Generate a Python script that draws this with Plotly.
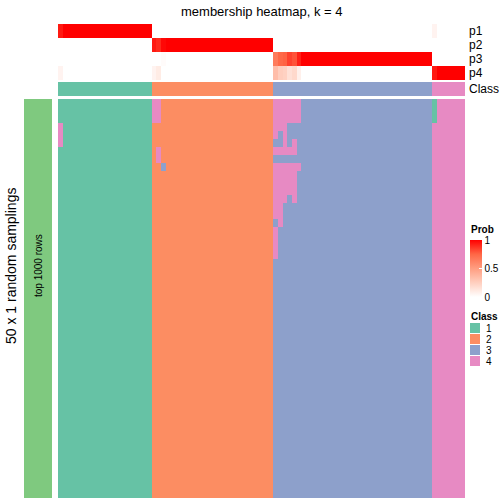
import plotly.graph_objects as go

W, H = 504, 504

# ---------------- data ----------------
class_labels = ["1", "2", "3", "4"]
class_colors = ["#66C2A5", "#FC8D62", "#8DA0CB", "#E78AC3"]
class_sizes = [20, 26, 34, 7]          # number of samples in each consensus class
n_samplings = 50
prob_names = ["p1", "p2", "p3", "p4"]

# membership probabilities that deviate from pure membership: column -> (p1, p2, p3, p4)
prob_exceptions = {
    0: (0.94, 0.00, 0.00, 0.06),
    20: (0.00, 0.94, 0.00, 0.06),
    21: (0.00, 0.90, 0.00, 0.10),
    22: (0.00, 0.98, 0.02, 0.00),
    46: (0.00, 0.00, 0.66, 0.34),
    47: (0.00, 0.00, 0.74, 0.26),
    48: (0.00, 0.00, 0.76, 0.24),
    49: (0.00, 0.00, 0.84, 0.16),
    50: (0.00, 0.00, 0.80, 0.20),
    51: (0.00, 0.00, 0.92, 0.08),
    80: (0.06, 0.00, 0.00, 0.94),
}

# class assignments in individual samplings that differ from the consensus: (column, class, rows)
sampling_exceptions = [
    (0, 4, [3, 4, 5]),
    (20, 4, [0, 1, 2]),
    (21, 4, [0, 1, 2, 6, 7]),
    (22, 3, [8]),
    (46, 4, [0, 1, 2, 3, 4, 6, 8, 9, 10, 11, 12, 13, 14, 16, 17, 18, 19]),
    (47, 4, [0, 1, 2, 3, 6, 8, 9, 10, 11, 12, 13, 14, 15]),
    (48, 4, [0, 1, 2, 3, 4, 5, 6, 8, 9, 10, 11, 12]),
    (49, 4, [0, 1, 2, 6, 8, 9, 10, 11]),
    (50, 4, [0, 1, 2, 5, 6, 8, 9, 10, 11, 12]),
    (51, 4, [0, 1, 2, 8]),
    (80, 1, [0, 1, 2]),
]

# ---------------- build matrices ----------------
consensus = []
for k, n in enumerate(class_sizes):
    consensus += [k + 1] * n
ncol = len(consensus)

prob = [[0.0] * ncol for _ in range(4)]
for j, c in enumerate(consensus):
    prob[c - 1][j] = 1.0
for j, vals in prob_exceptions.items():
    for i in range(4):
        prob[i][j] = vals[i]

mat = [list(consensus) for _ in range(n_samplings)]
for j, c, rows in sampling_exceptions:
    for r in rows:
        mat[r][j] = c

# ---------------- layout helpers (pixel -> paper) ----------------
def px(x):
    return x / W

def py(y):
    return 1 - y / H

X0, X1 = 58, 465
BODY_T, BODY_B = 99, 498
PROB_T, PROB_B = 24, 80
CLS_T, CLS_B = 82, 96
BAR_L, BAR_R = 24, 52
LEFT_TEXT_Y = 266

disc_scale = []
for k, col in enumerate(class_colors):
    disc_scale.append([k / 4, col])
    disc_scale.append([(k + 1) / 4, col])

prob_scale = [
    [0.0, "#FFFFFF"],
    [0.25, "rgb(255,207,191)"],
    [0.5, "rgb(255,158,129)"],
    [0.75, "rgb(255,103,70)"],
    [1.0, "#FF0000"],
]

fig = go.Figure()

# main body
fig.add_trace(go.Heatmap(
    z=mat, x=list(range(ncol)), y=list(range(n_samplings)),
    colorscale=disc_scale, zmin=0.5, zmax=4.5, showscale=False,
    xaxis="x", yaxis="y", hoverinfo="skip"))

# probability annotation
fig.add_trace(go.Heatmap(
    z=prob, x=list(range(ncol)), y=prob_names,
    colorscale=prob_scale, zmin=0, zmax=1,
    xaxis="x2", yaxis="y2", hoverinfo="skip",
    colorbar=dict(
        x=px(470), xanchor="left", xpad=0,
        y=py(268.5), yanchor="middle", ypad=0,
        lenmode="pixels", len=57,
        thicknessmode="pixels", thickness=12,
        outlinewidth=0,
        tickvals=[0, 0.5, 1], ticktext=["0", "0.5", "1"],
        ticks="inside", ticklen=3, tickcolor="white", tickwidth=1,
        tickfont=dict(size=10, color="black", family="Liberation Sans"),
    )))

# class annotation
fig.add_trace(go.Heatmap(
    z=[consensus], x=list(range(ncol)), y=["Class"],
    colorscale=disc_scale, zmin=0.5, zmax=4.5, showscale=False,
    xaxis="x3", yaxis="y3", hoverinfo="skip"))

# left block annotation
fig.add_trace(go.Heatmap(
    z=[[1]], x=[0], y=[0], colorscale=[[0, "#7FC97F"], [1, "#7FC97F"]],
    showscale=False, xaxis="x4", yaxis="y4", hoverinfo="skip"))

ax_common = dict(visible=False, showgrid=False, zeroline=False, fixedrange=True)
fig.update_layout(
    width=W, height=H,
    margin=dict(l=0, r=0, t=0, b=0),
    paper_bgcolor="white", plot_bgcolor="white",
    font=dict(family="Liberation Sans", color="black"),
    xaxis=dict(domain=[px(X0), px(X1)], range=[-0.5, ncol - 0.5], **ax_common),
    yaxis=dict(domain=[py(BODY_B), py(BODY_T)], range=[n_samplings - 0.5, -0.5], **ax_common),
    xaxis2=dict(domain=[px(X0), px(X1)], range=[-0.5, ncol - 0.5], anchor="y2", **ax_common),
    yaxis2=dict(domain=[py(PROB_B), py(PROB_T)], range=[3.5, -0.5], anchor="x2", **ax_common),
    xaxis3=dict(domain=[px(X0), px(X1)], range=[-0.5, ncol - 0.5], anchor="y3", **ax_common),
    yaxis3=dict(domain=[py(CLS_B), py(CLS_T)], range=[0.5, -0.5], anchor="x3", **ax_common),
    xaxis4=dict(domain=[px(BAR_L), px(BAR_R)], range=[-0.5, 0.5], anchor="y4", **ax_common),
    yaxis4=dict(domain=[py(BODY_B), py(BODY_T)], range=[-0.5, 0.5], anchor="x4", **ax_common),
)

ann = []
ann.append(dict(text="membership heatmap, k = 4", x=px((X0 + X1) / 2), y=py(11),
                xref="paper", yref="paper", showarrow=False, font=dict(size=13),
                xanchor="center", yanchor="middle"))
for i, name in enumerate(prob_names + ["Class"]):
    yc = PROB_T + 7 + 14 * i if i < 4 else (CLS_T + CLS_B) / 2
    ann.append(dict(text=name, x=px(467), y=py(yc), xref="paper", yref="paper",
                    showarrow=False, font=dict(size=12), xanchor="left", yanchor="middle"))
ann.append(dict(text="50 x 1 random samplings", x=px(11), y=py(LEFT_TEXT_Y),
                xref="paper", yref="paper", showarrow=False, textangle=-90,
                font=dict(size=14), xanchor="center", yanchor="middle"))
ann.append(dict(text="top 1000 rows", x=px((BAR_L + BAR_R) / 2), y=py(LEFT_TEXT_Y),
                xref="paper", yref="paper", showarrow=False, textangle=-90,
                font=dict(size=10), xanchor="center", yanchor="middle"))
ann.append(dict(text="<b>Prob</b>", x=px(469), y=py(230), xref="paper", yref="paper",
                showarrow=False, font=dict(size=10), xanchor="left", yanchor="middle"))
ann.append(dict(text="<b>Class</b>", x=px(469), y=py(316), xref="paper", yref="paper",
                showarrow=False, font=dict(size=10), xanchor="left", yanchor="middle"))

shapes = []
for k, (lab, col) in enumerate(zip(class_labels, class_colors)):
    top = 323 + 11 * k
    shapes.append(dict(type="rect", xref="paper", yref="paper",
                       x0=px(470), x1=px(480), y0=py(top + 10), y1=py(top),
                       fillcolor=col, line=dict(width=0)))
    ann.append(dict(text=lab, x=px(484), y=py(top + 5), xref="paper", yref="paper",
                    showarrow=False, font=dict(size=10), xanchor="left", yanchor="middle"))

fig.update_layout(annotations=ann, shapes=shapes)
fig.write_html(
    "out.html",
    config={"displayModeBar": False},
    post_script="document.body.style.margin='0px';document.body.style.overflow='hidden';",
)
